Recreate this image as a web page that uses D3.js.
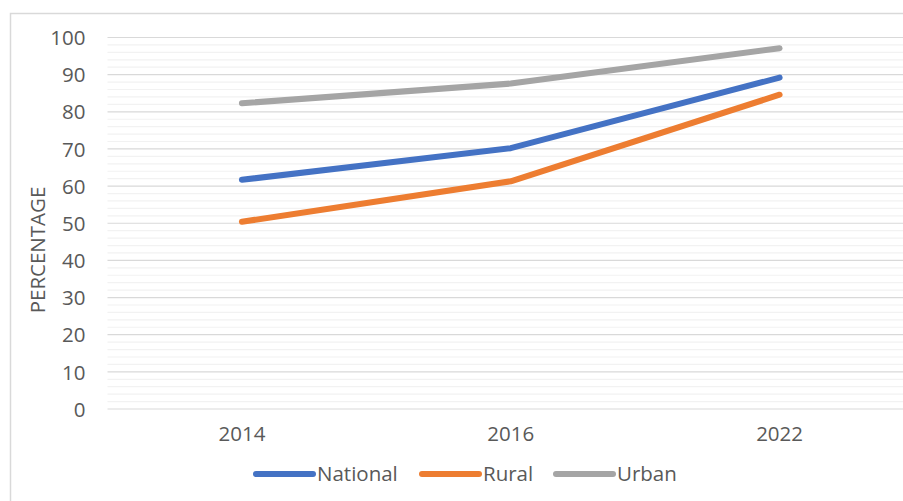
<!DOCTYPE html>
<html>
<head>
<meta charset="utf-8">
<script src="https://cdn.jsdelivr.net/npm/d3@7"></script>
<style>
  body { margin: 0; background: #fff; }
  text { font-family: "Open Sans", sans-serif; fill: #595959; }
</style>
</head>
<body>
<svg id="chart" width="903" height="501"></svg>
<script>
const years = ["2014", "2016", "2022"];
const national = [61.7, 70.2, 89.2];
const rural = [50.4, 61.3, 84.6];
const urban = [82.3, 87.6, 97.1];
const yTicks = [0, 10, 20, 30, 40, 50, 60, 70, 80, 90, 100];

const series = [
  { name: "National", values: national, color: "#4472C4" },
  { name: "Rural", values: rural, color: "#ED7D31" },
  { name: "Urban", values: urban, color: "#A5A5A5" }
];

const margin = { left: 107.5, top: 37.5, right: -11, bottom: 92 };
const width = 903 - margin.left - margin.right;
const height = 501 - margin.top - margin.bottom;
const fontSize = "20.5px";

const svg = d3.select("#chart");

// outer chart border (cut off on right/bottom like the source)
svg.append("rect")
  .attr("x", 10.5).attr("y", 13.5)
  .attr("width", 920).attr("height", 520)
  .attr("fill", "none").attr("stroke", "#d9d9d9").attr("stroke-width", 1.5);

const g = svg.append("g")
  .attr("transform", `translate(${margin.left},${margin.top})`);

const x = d3.scaleBand().domain(years).range([0, width]);
const y = d3.scaleLinear().domain([0, 100]).range([height, 0]);

// minor gridlines every 2
g.append("g").selectAll("line")
  .data(d3.range(0, 101, 2).filter(v => v % 10 !== 0))
  .join("line")
  .attr("x1", 0).attr("x2", width)
  .attr("y1", d => y(d)).attr("y2", d => y(d))
  .attr("stroke", "#f2f2f2").attr("stroke-width", 1.2);

// major gridlines
g.append("g").selectAll("line")
  .data(yTicks)
  .join("line")
  .attr("x1", 0).attr("x2", width)
  .attr("y1", d => y(d)).attr("y2", d => y(d))
  .attr("stroke", "#d9d9d9").attr("stroke-width", 1.2);

const yAxis = g.append("g")
  .call(d3.axisLeft(y).tickValues(yTicks).tickSize(0).tickPadding(22));
yAxis.select(".domain").remove();
yAxis.selectAll("text").style("font-size", fontSize).attr("dy", "0.35em");

const xAxis = g.append("g")
  .attr("transform", `translate(0,${height})`)
  .call(d3.axisBottom(x).tickSize(0).tickPadding(25));
xAxis.select(".domain").remove();
xAxis.selectAll("text").style("font-size", fontSize).attr("dy", "0.35em");

svg.append("text")
  .attr("transform", "translate(38,250) rotate(-90)")
  .attr("text-anchor", "middle")
  .attr("dy", "0.35em")
  .style("font-size", fontSize)
  .text("PERCENTAGE");

const line = d3.line()
  .x((d, i) => x(years[i]) + x.bandwidth() / 2)
  .y(d => y(d));

g.selectAll(".series")
  .data(series)
  .join("path")
  .attr("class", "series")
  .attr("d", d => line(d.values))
  .attr("fill", "none")
  .attr("stroke", d => d.color)
  .attr("stroke-width", 6)
  .attr("stroke-linecap", "round")
  .attr("stroke-linejoin", "round");

// legend
const legendX = [256, 422, 556];
const legend = svg.append("g").attr("transform", "translate(0,474)");
series.forEach((s, i) => {
  legend.append("line")
    .attr("x1", legendX[i]).attr("x2", legendX[i] + 57)
    .attr("y1", 0).attr("y2", 0)
    .attr("stroke", s.color).attr("stroke-width", 6)
    .attr("stroke-linecap", "round");
  legend.append("text")
    .attr("x", legendX[i] + 61)
    .attr("dy", "0.35em")
    .style("font-size", fontSize)
    .text(s.name);
});
</script>
</body>
</html>
